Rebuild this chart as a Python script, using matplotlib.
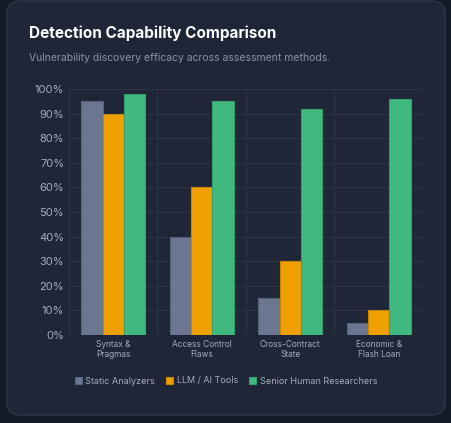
import matplotlib.pyplot as plt
import numpy as np
from matplotlib.patches import FancyBboxPatch

categories = ['Syntax &\nPragmas', 'Access Control\nFlaws', 'Cross-Contract\nState', 'Economic &\nFlash Loan']
static_vals = [95, 40, 15, 5]
llm_vals = [90, 60, 30, 10]
human_vals = [98, 95, 92, 96]
series = ['Static Analyzers', 'LLM / AI Tools', 'Senior Human Researchers']
colors = ['#6b7791', '#f0a000', '#40b981']
edges = ['#56627a', '#c98600', '#35a06e']

plt.rcParams['font.family'] = ['Inter', 'DejaVu Sans']
fig = plt.figure(figsize=(4.52, 4.23), dpi=100)
fig.patch.set_facecolor('#131a26')
card = FancyBboxPatch((7 / 452, 8 / 423), 438 / 452, 414 / 423,
                      boxstyle='round,pad=0,rounding_size=0.03',
                      transform=fig.transFigure, facecolor='#1f2637',
                      edgecolor='#2e3648', linewidth=1, zorder=-10)
fig.patches.append(card)

fig.text(29 / 452, 1 - 33 / 423, 'Detection Capability Comparison', color='white',
         fontsize=11, fontweight='bold', va='center')
fig.text(29 / 452, 1 - 58 / 423, 'Vulnerability discovery efficacy across assessment methods.',
         color='#8a93a6', fontsize=7.5, va='center')

ax = fig.add_axes([69 / 452, 88 / 423, 354 / 452, 246 / 423])
ax.set_zorder(5)
ax.set_facecolor('none')
x = np.arange(len(categories))
w = 0.24
for i, vals in enumerate([static_vals, llm_vals, human_vals]):
    ax.bar(x + (i - 1) * w, vals, width=w, color=colors[i], edgecolor=edges[i],
           linewidth=0.8, label=series[i], zorder=3)

ax.set_xlim(-0.5, len(categories) - 0.5)
ax.set_ylim(0, 100)
ax.set_yticks(range(0, 101, 10))
ax.set_yticklabels([f'{v}%' for v in range(0, 101, 10)], color='#a3acbd', fontsize=8)
ax.set_xticks(x)
ax.set_xticklabels(categories, color='#a3acbd', fontsize=6)
ax.set_xticks(np.arange(-0.5, len(categories)), minor=True)
ax.grid(axis='y', color='#2c3446', linewidth=0.8, zorder=0)
ax.grid(axis='x', which='minor', color='#2c3446', linewidth=0.8, zorder=0)
ax.tick_params(length=0, which='both')
for s in ax.spines.values():
    s.set_visible(False)

leg = fig.legend(loc='center', bbox_to_anchor=(0.5, 1 - 381 / 423), ncol=3, frameon=False,
                 fontsize=6.5, handlelength=0.8, handleheight=0.8, columnspacing=1.2,
                 handletextpad=0.4)
for t in leg.get_texts():
    t.set_color('#a3acbd')

fig.savefig('out.png', dpi=100, facecolor=fig.get_facecolor())
